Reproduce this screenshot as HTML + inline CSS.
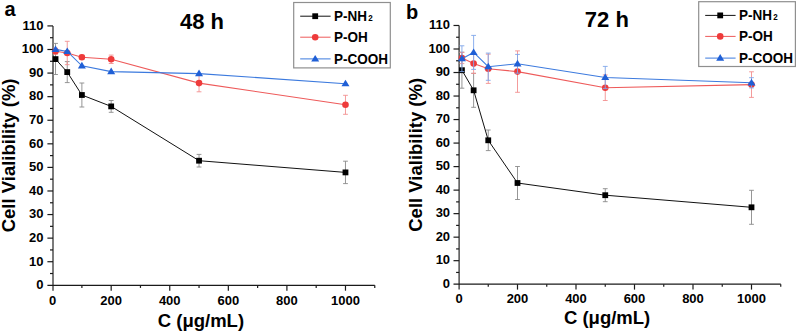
<!DOCTYPE html>
<html><head><meta charset="utf-8"><title>Cell viability</title>
<style>
html,body{margin:0;padding:0;background:#fff;}
body{width:797px;height:333px;overflow:hidden;}
svg{display:block;}
text{font-family:"Liberation Sans", sans-serif;font-weight:bold;fill:#000;}
.tk{font-size:13px;}
.lab{font-size:18.5px;}
.ylab{letter-spacing:0px;}
.ttl{font-size:22px;}
.let{font-size:20px;}
.leg{font-size:14px;}
</style></head>
<body>
<svg width="797" height="333" viewBox="0 0 797 333">
<rect width="797" height="333" fill="#fff"/>
<path d="M53.00 25.92V290.70" stroke="#1a1a1a" stroke-width="1.15" fill="none"/>
<path d="M47.40 285.30H374.77" stroke="#1a1a1a" stroke-width="1.3" fill="none"/>
<path d="M50.00 273.51H53.00" stroke="#1a1a1a" stroke-width="1.2"/>
<path d="M47.40 261.72H53.00" stroke="#1a1a1a" stroke-width="1.2"/>
<path d="M50.00 249.93H53.00" stroke="#1a1a1a" stroke-width="1.2"/>
<path d="M47.40 238.14H53.00" stroke="#1a1a1a" stroke-width="1.2"/>
<path d="M50.00 226.35H53.00" stroke="#1a1a1a" stroke-width="1.2"/>
<path d="M47.40 214.56H53.00" stroke="#1a1a1a" stroke-width="1.2"/>
<path d="M50.00 202.77H53.00" stroke="#1a1a1a" stroke-width="1.2"/>
<path d="M47.40 190.98H53.00" stroke="#1a1a1a" stroke-width="1.2"/>
<path d="M50.00 179.19H53.00" stroke="#1a1a1a" stroke-width="1.2"/>
<path d="M47.40 167.40H53.00" stroke="#1a1a1a" stroke-width="1.2"/>
<path d="M50.00 155.61H53.00" stroke="#1a1a1a" stroke-width="1.2"/>
<path d="M47.40 143.82H53.00" stroke="#1a1a1a" stroke-width="1.2"/>
<path d="M50.00 132.03H53.00" stroke="#1a1a1a" stroke-width="1.2"/>
<path d="M47.40 120.24H53.00" stroke="#1a1a1a" stroke-width="1.2"/>
<path d="M50.00 108.45H53.00" stroke="#1a1a1a" stroke-width="1.2"/>
<path d="M47.40 96.66H53.00" stroke="#1a1a1a" stroke-width="1.2"/>
<path d="M50.00 84.87H53.00" stroke="#1a1a1a" stroke-width="1.2"/>
<path d="M47.40 73.08H53.00" stroke="#1a1a1a" stroke-width="1.2"/>
<path d="M50.00 61.29H53.00" stroke="#1a1a1a" stroke-width="1.2"/>
<path d="M47.40 49.50H53.00" stroke="#1a1a1a" stroke-width="1.2"/>
<path d="M50.00 37.71H53.00" stroke="#1a1a1a" stroke-width="1.2"/>
<path d="M47.40 25.92H53.00" stroke="#1a1a1a" stroke-width="1.2"/>
<path d="M81.89 285.30V287.90" stroke="#1a1a1a" stroke-width="1.2"/>
<path d="M111.18 285.30V290.70" stroke="#1a1a1a" stroke-width="1.2"/>
<path d="M140.46 285.30V287.90" stroke="#1a1a1a" stroke-width="1.2"/>
<path d="M169.75 285.30V290.70" stroke="#1a1a1a" stroke-width="1.2"/>
<path d="M199.04 285.30V287.90" stroke="#1a1a1a" stroke-width="1.2"/>
<path d="M228.33 285.30V290.70" stroke="#1a1a1a" stroke-width="1.2"/>
<path d="M257.62 285.30V287.90" stroke="#1a1a1a" stroke-width="1.2"/>
<path d="M286.90 285.30V290.70" stroke="#1a1a1a" stroke-width="1.2"/>
<path d="M316.19 285.30V287.90" stroke="#1a1a1a" stroke-width="1.2"/>
<path d="M345.48 285.30V290.70" stroke="#1a1a1a" stroke-width="1.2"/>
<path d="M374.77 285.30V287.90" stroke="#1a1a1a" stroke-width="1.2"/>
<text x="43.50" y="289.10" text-anchor="end" class="tk">0</text>
<text x="43.50" y="265.52" text-anchor="end" class="tk">10</text>
<text x="43.50" y="241.94" text-anchor="end" class="tk">20</text>
<text x="43.50" y="218.36" text-anchor="end" class="tk">30</text>
<text x="43.50" y="194.78" text-anchor="end" class="tk">40</text>
<text x="43.50" y="171.20" text-anchor="end" class="tk">50</text>
<text x="43.50" y="147.62" text-anchor="end" class="tk">60</text>
<text x="43.50" y="124.04" text-anchor="end" class="tk">70</text>
<text x="43.50" y="100.46" text-anchor="end" class="tk">80</text>
<text x="43.50" y="76.88" text-anchor="end" class="tk">90</text>
<text x="43.50" y="53.30" text-anchor="end" class="tk">100</text>
<text x="43.50" y="29.72" text-anchor="end" class="tk">110</text>
<text x="52.60" y="304.50" text-anchor="middle" class="tk">0</text>
<text x="111.18" y="304.50" text-anchor="middle" class="tk">200</text>
<text x="169.75" y="304.50" text-anchor="middle" class="tk">400</text>
<text x="228.33" y="304.50" text-anchor="middle" class="tk">600</text>
<text x="286.90" y="304.50" text-anchor="middle" class="tk">800</text>
<text x="345.48" y="304.50" text-anchor="middle" class="tk">1000</text>
<text transform="translate(14.60 155.40) rotate(-90)" text-anchor="middle" class="lab ylab">Cell Vialibility (%)</text>
<text x="200.90" y="326.60" text-anchor="middle" class="lab">C (μg/mL)</text>
<text x="180.00" y="29.20" class="ttl">48 h</text>
<text x="4.50" y="16.00" class="let">a</text>
<path d="M55.53 43.40V74.50M53.13 43.40H57.93M53.13 74.50H57.93" stroke="#8a8a8a" stroke-width="0.9" fill="none"/>
<path d="M67.24 61.60V82.60M64.84 61.60H69.64M64.84 82.60H69.64" stroke="#8a8a8a" stroke-width="0.9" fill="none"/>
<path d="M81.89 83.00V107.00M79.49 83.00H84.29M79.49 107.00H84.29" stroke="#8a8a8a" stroke-width="0.9" fill="none"/>
<path d="M111.18 100.50V112.30M108.78 100.50H113.58M108.78 112.30H113.58" stroke="#8a8a8a" stroke-width="0.9" fill="none"/>
<path d="M199.04 154.40V167.00M196.64 154.40H201.44M196.64 167.00H201.44" stroke="#8a8a8a" stroke-width="0.9" fill="none"/>
<path d="M345.48 161.20V183.60M343.08 161.20H347.88M343.08 183.60H347.88" stroke="#8a8a8a" stroke-width="0.9" fill="none"/>
<polyline points="55.53,59.10 67.24,72.10 81.89,95.00 111.18,106.40 199.04,160.70 345.48,172.40" stroke="#111" stroke-width="1.0" fill="none"/>
<rect x="52.63" y="56.20" width="5.8" height="5.8" fill="#000"/>
<rect x="64.34" y="69.20" width="5.8" height="5.8" fill="#000"/>
<rect x="78.99" y="92.10" width="5.8" height="5.8" fill="#000"/>
<rect x="108.28" y="103.50" width="5.8" height="5.8" fill="#000"/>
<rect x="196.14" y="157.80" width="5.8" height="5.8" fill="#000"/>
<rect x="342.58" y="169.50" width="5.8" height="5.8" fill="#000"/>
<path d="M55.53 48.20V54.20M53.13 48.20H57.93M53.13 54.20H57.93" stroke="#f39090" stroke-width="0.9" fill="none"/>
<path d="M67.24 41.30V64.70M64.84 41.30H69.64M64.84 64.70H69.64" stroke="#f39090" stroke-width="0.9" fill="none"/>
<path d="M81.89 55.20V59.20M79.49 55.20H84.29M79.49 59.20H84.29" stroke="#f39090" stroke-width="0.9" fill="none"/>
<path d="M111.18 55.10V63.50M108.78 55.10H113.58M108.78 63.50H113.58" stroke="#f39090" stroke-width="0.9" fill="none"/>
<path d="M199.04 74.40V91.80M196.64 74.40H201.44M196.64 91.80H201.44" stroke="#f39090" stroke-width="0.9" fill="none"/>
<path d="M345.48 95.30V114.30M343.08 95.30H347.88M343.08 114.30H347.88" stroke="#f39090" stroke-width="0.9" fill="none"/>
<polyline points="55.53,51.20 67.24,53.00 81.89,57.20 111.18,59.30 199.04,83.10 345.48,104.80" stroke="#ee5a5a" stroke-width="1.1" fill="none"/>
<circle cx="55.53" cy="51.20" r="3.3" fill="#ee3b3b"/>
<circle cx="67.24" cy="53.00" r="3.3" fill="#ee3b3b"/>
<circle cx="81.89" cy="57.20" r="3.3" fill="#ee3b3b"/>
<circle cx="111.18" cy="59.30" r="3.3" fill="#ee3b3b"/>
<circle cx="199.04" cy="83.10" r="3.3" fill="#ee3b3b"/>
<circle cx="345.48" cy="104.80" r="3.3" fill="#ee3b3b"/>
<polyline points="55.53,49.40 67.24,51.40 81.89,65.80 111.18,71.60 199.04,73.60 345.48,83.70" stroke="#3c7ade" stroke-width="1.1" fill="none"/>
<path d="M55.53 45.40L59.53 52.00H51.53Z" fill="#1f5fd6"/>
<path d="M67.24 47.40L71.24 54.00H63.24Z" fill="#1f5fd6"/>
<path d="M81.89 61.80L85.89 68.40H77.89Z" fill="#1f5fd6"/>
<path d="M111.18 67.60L115.18 74.20H107.18Z" fill="#1f5fd6"/>
<path d="M199.04 69.60L203.04 76.20H195.04Z" fill="#1f5fd6"/>
<path d="M345.48 79.70L349.48 86.30H341.48Z" fill="#1f5fd6"/>
<rect x="293.70" y="2.50" width="96.6" height="65.4" fill="#fff" stroke="#8f8f8f" stroke-width="1.2"/>
<path d="M300.20 16.20H330.60" stroke="#111" stroke-width="1"/>
<rect x="312.30" y="13.30" width="5.8" height="5.8" fill="#000"/>
<text transform="translate(334.10 21.20) scale(0.965 1)" class="leg">P-NH<tspan font-size="8.3px" dx="1.1" dy="-0.4">2</tspan></text>
<path d="M300.20 37.20H330.60" stroke="#ee5a5a" stroke-width="1"/>
<circle cx="315.20" cy="37.20" r="3.3" fill="#ee3b3b"/>
<text transform="translate(334.10 42.20) scale(0.965 1)" class="leg">P-OH</text>
<path d="M300.20 58.90H330.60" stroke="#3c7ade" stroke-width="1"/>
<path d="M315.20 54.90L319.20 61.50H311.20Z" fill="#1f5fd6"/>
<text transform="translate(334.10 63.90) scale(0.965 1)" class="leg">P-COOH</text>
<path d="M459.10 25.48V289.60" stroke="#1a1a1a" stroke-width="1.15" fill="none"/>
<path d="M453.50 284.20H780.75" stroke="#1a1a1a" stroke-width="1.3" fill="none"/>
<path d="M456.10 272.44H459.10" stroke="#1a1a1a" stroke-width="1.2"/>
<path d="M453.50 260.68H459.10" stroke="#1a1a1a" stroke-width="1.2"/>
<path d="M456.10 248.92H459.10" stroke="#1a1a1a" stroke-width="1.2"/>
<path d="M453.50 237.16H459.10" stroke="#1a1a1a" stroke-width="1.2"/>
<path d="M456.10 225.40H459.10" stroke="#1a1a1a" stroke-width="1.2"/>
<path d="M453.50 213.64H459.10" stroke="#1a1a1a" stroke-width="1.2"/>
<path d="M456.10 201.88H459.10" stroke="#1a1a1a" stroke-width="1.2"/>
<path d="M453.50 190.12H459.10" stroke="#1a1a1a" stroke-width="1.2"/>
<path d="M456.10 178.36H459.10" stroke="#1a1a1a" stroke-width="1.2"/>
<path d="M453.50 166.60H459.10" stroke="#1a1a1a" stroke-width="1.2"/>
<path d="M456.10 154.84H459.10" stroke="#1a1a1a" stroke-width="1.2"/>
<path d="M453.50 143.08H459.10" stroke="#1a1a1a" stroke-width="1.2"/>
<path d="M456.10 131.32H459.10" stroke="#1a1a1a" stroke-width="1.2"/>
<path d="M453.50 119.56H459.10" stroke="#1a1a1a" stroke-width="1.2"/>
<path d="M456.10 107.80H459.10" stroke="#1a1a1a" stroke-width="1.2"/>
<path d="M453.50 96.04H459.10" stroke="#1a1a1a" stroke-width="1.2"/>
<path d="M456.10 84.28H459.10" stroke="#1a1a1a" stroke-width="1.2"/>
<path d="M453.50 72.52H459.10" stroke="#1a1a1a" stroke-width="1.2"/>
<path d="M456.10 60.76H459.10" stroke="#1a1a1a" stroke-width="1.2"/>
<path d="M453.50 49.00H459.10" stroke="#1a1a1a" stroke-width="1.2"/>
<path d="M456.10 37.24H459.10" stroke="#1a1a1a" stroke-width="1.2"/>
<path d="M453.50 25.48H459.10" stroke="#1a1a1a" stroke-width="1.2"/>
<path d="M488.25 284.20V286.80" stroke="#1a1a1a" stroke-width="1.2"/>
<path d="M517.50 284.20V289.60" stroke="#1a1a1a" stroke-width="1.2"/>
<path d="M546.75 284.20V286.80" stroke="#1a1a1a" stroke-width="1.2"/>
<path d="M576.00 284.20V289.60" stroke="#1a1a1a" stroke-width="1.2"/>
<path d="M605.25 284.20V286.80" stroke="#1a1a1a" stroke-width="1.2"/>
<path d="M634.50 284.20V289.60" stroke="#1a1a1a" stroke-width="1.2"/>
<path d="M663.75 284.20V286.80" stroke="#1a1a1a" stroke-width="1.2"/>
<path d="M693.00 284.20V289.60" stroke="#1a1a1a" stroke-width="1.2"/>
<path d="M722.25 284.20V286.80" stroke="#1a1a1a" stroke-width="1.2"/>
<path d="M751.50 284.20V289.60" stroke="#1a1a1a" stroke-width="1.2"/>
<path d="M780.75 284.20V286.80" stroke="#1a1a1a" stroke-width="1.2"/>
<text x="450.10" y="288.00" text-anchor="end" class="tk">0</text>
<text x="450.10" y="264.48" text-anchor="end" class="tk">10</text>
<text x="450.10" y="240.96" text-anchor="end" class="tk">20</text>
<text x="450.10" y="217.44" text-anchor="end" class="tk">30</text>
<text x="450.10" y="193.92" text-anchor="end" class="tk">40</text>
<text x="450.10" y="170.40" text-anchor="end" class="tk">50</text>
<text x="450.10" y="146.88" text-anchor="end" class="tk">60</text>
<text x="450.10" y="123.36" text-anchor="end" class="tk">70</text>
<text x="450.10" y="99.84" text-anchor="end" class="tk">80</text>
<text x="450.10" y="76.32" text-anchor="end" class="tk">90</text>
<text x="450.10" y="52.80" text-anchor="end" class="tk">100</text>
<text x="450.10" y="29.28" text-anchor="end" class="tk">110</text>
<text x="459.00" y="303.40" text-anchor="middle" class="tk">0</text>
<text x="517.50" y="303.40" text-anchor="middle" class="tk">200</text>
<text x="576.00" y="303.40" text-anchor="middle" class="tk">400</text>
<text x="634.50" y="303.40" text-anchor="middle" class="tk">600</text>
<text x="693.00" y="303.40" text-anchor="middle" class="tk">800</text>
<text x="751.50" y="303.40" text-anchor="middle" class="tk">1000</text>
<text transform="translate(422.20 154.80) rotate(-90)" text-anchor="middle" class="lab ylab">Cell Vialibility (%)</text>
<text x="607.10" y="324.40" text-anchor="middle" class="lab">C (μg/mL)</text>
<text x="584.80" y="27.40" class="ttl">72 h</text>
<text x="406.00" y="19.00" class="let">b</text>
<path d="M461.93 52.20V88.20M459.53 52.20H464.32M459.53 88.20H464.32" stroke="#8a8a8a" stroke-width="0.9" fill="none"/>
<path d="M473.62 73.30V107.30M471.23 73.30H476.02M471.23 107.30H476.02" stroke="#8a8a8a" stroke-width="0.9" fill="none"/>
<path d="M488.25 130.00V150.60M485.85 130.00H490.65M485.85 150.60H490.65" stroke="#8a8a8a" stroke-width="0.9" fill="none"/>
<path d="M517.50 166.50V199.50M515.10 166.50H519.90M515.10 199.50H519.90" stroke="#8a8a8a" stroke-width="0.9" fill="none"/>
<path d="M605.25 188.70V201.70M602.85 188.70H607.65M602.85 201.70H607.65" stroke="#8a8a8a" stroke-width="0.9" fill="none"/>
<path d="M751.50 190.30V224.30M749.10 190.30H753.90M749.10 224.30H753.90" stroke="#8a8a8a" stroke-width="0.9" fill="none"/>
<polyline points="461.93,70.20 473.62,90.30 488.25,140.30 517.50,183.00 605.25,195.20 751.50,207.30" stroke="#111" stroke-width="1.0" fill="none"/>
<rect x="459.03" y="67.30" width="5.8" height="5.8" fill="#000"/>
<rect x="470.73" y="87.40" width="5.8" height="5.8" fill="#000"/>
<rect x="485.35" y="137.40" width="5.8" height="5.8" fill="#000"/>
<rect x="514.60" y="180.10" width="5.8" height="5.8" fill="#000"/>
<rect x="602.35" y="192.30" width="5.8" height="5.8" fill="#000"/>
<rect x="748.60" y="204.40" width="5.8" height="5.8" fill="#000"/>
<path d="M461.93 52.40V63.60M459.53 52.40H464.32M459.53 63.60H464.32" stroke="#f39090" stroke-width="0.9" fill="none"/>
<path d="M473.62 53.80V73.40M471.23 53.80H476.02M471.23 73.40H476.02" stroke="#f39090" stroke-width="0.9" fill="none"/>
<path d="M488.25 54.20V83.40M485.85 54.20H490.65M485.85 83.40H490.65" stroke="#f39090" stroke-width="0.9" fill="none"/>
<path d="M517.50 50.90V92.30M515.10 50.90H519.90M515.10 92.30H519.90" stroke="#f39090" stroke-width="0.9" fill="none"/>
<path d="M605.25 74.90V100.50M602.85 74.90H607.65M602.85 100.50H607.65" stroke="#f39090" stroke-width="0.9" fill="none"/>
<path d="M751.50 71.80V97.40M749.10 71.80H753.90M749.10 97.40H753.90" stroke="#f39090" stroke-width="0.9" fill="none"/>
<polyline points="461.93,58.00 473.62,63.60 488.25,68.80 517.50,71.60 605.25,87.70 751.50,84.60" stroke="#ee5a5a" stroke-width="1.1" fill="none"/>
<circle cx="461.93" cy="58.00" r="3.3" fill="#ee3b3b"/>
<circle cx="473.62" cy="63.60" r="3.3" fill="#ee3b3b"/>
<circle cx="488.25" cy="68.80" r="3.3" fill="#ee3b3b"/>
<circle cx="517.50" cy="71.60" r="3.3" fill="#ee3b3b"/>
<circle cx="605.25" cy="87.70" r="3.3" fill="#ee3b3b"/>
<circle cx="751.50" cy="84.60" r="3.3" fill="#ee3b3b"/>
<path d="M461.93 45.80V71.60M459.53 45.80H464.32M459.53 71.60H464.32" stroke="#7fa6ea" stroke-width="0.9" fill="none"/>
<path d="M473.62 35.40V69.40M471.23 35.40H476.02M471.23 69.40H476.02" stroke="#7fa6ea" stroke-width="0.9" fill="none"/>
<path d="M488.25 53.10V80.30M485.85 53.10H490.65M485.85 80.30H490.65" stroke="#7fa6ea" stroke-width="0.9" fill="none"/>
<path d="M517.50 54.40V73.20M515.10 54.40H519.90M515.10 73.20H519.90" stroke="#7fa6ea" stroke-width="0.9" fill="none"/>
<path d="M605.25 66.40V88.60M602.85 66.40H607.65M602.85 88.60H607.65" stroke="#7fa6ea" stroke-width="0.9" fill="none"/>
<path d="M751.50 77.70V87.90M749.10 77.70H753.90M749.10 87.90H753.90" stroke="#7fa6ea" stroke-width="0.9" fill="none"/>
<polyline points="461.93,58.70 473.62,52.40 488.25,66.70 517.50,63.80 605.25,77.50 751.50,82.80" stroke="#3c7ade" stroke-width="1.1" fill="none"/>
<path d="M461.93 54.70L465.93 61.30H457.93Z" fill="#1f5fd6"/>
<path d="M473.62 48.40L477.62 55.00H469.62Z" fill="#1f5fd6"/>
<path d="M488.25 62.70L492.25 69.30H484.25Z" fill="#1f5fd6"/>
<path d="M517.50 59.80L521.50 66.40H513.50Z" fill="#1f5fd6"/>
<path d="M605.25 73.50L609.25 80.10H601.25Z" fill="#1f5fd6"/>
<path d="M751.50 78.80L755.50 85.40H747.50Z" fill="#1f5fd6"/>
<rect x="698.70" y="1.70" width="96.7" height="64.8" fill="#fff" stroke="#8f8f8f" stroke-width="1.2"/>
<path d="M705.20 15.40H735.60" stroke="#111" stroke-width="1"/>
<rect x="717.30" y="12.50" width="5.8" height="5.8" fill="#000"/>
<text transform="translate(739.10 20.40) scale(0.965 1)" class="leg">P-NH<tspan font-size="8.3px" dx="1.1" dy="-0.4">2</tspan></text>
<path d="M705.20 36.40H735.60" stroke="#ee5a5a" stroke-width="1"/>
<circle cx="720.20" cy="36.40" r="3.3" fill="#ee3b3b"/>
<text transform="translate(739.10 41.40) scale(0.965 1)" class="leg">P-OH</text>
<path d="M705.20 58.10H735.60" stroke="#3c7ade" stroke-width="1"/>
<path d="M720.20 54.10L724.20 60.70H716.20Z" fill="#1f5fd6"/>
<text transform="translate(739.10 63.10) scale(0.965 1)" class="leg">P-COOH</text>
</svg>
</body></html>
